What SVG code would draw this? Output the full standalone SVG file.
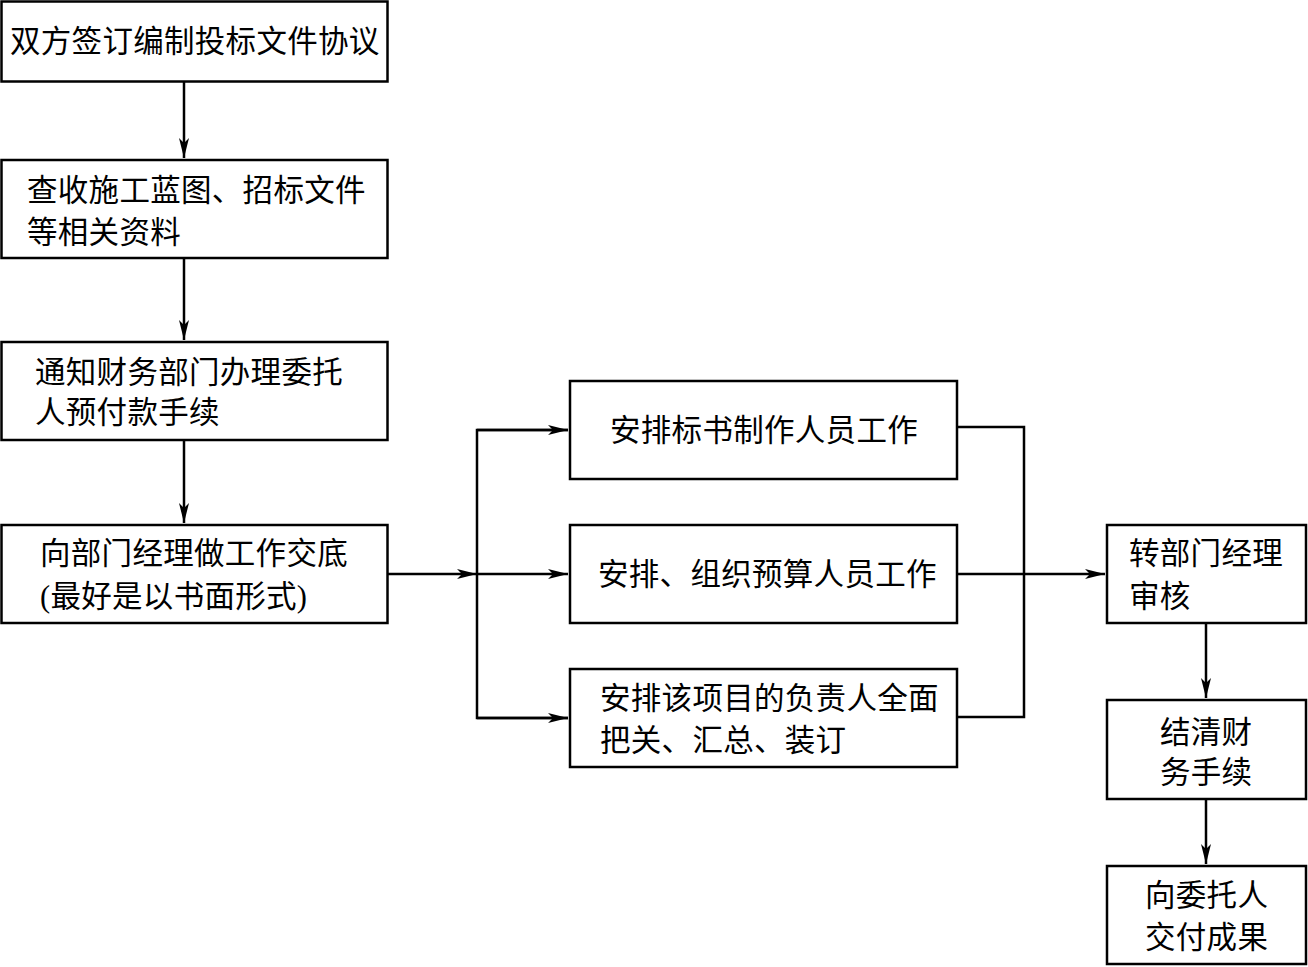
<svg xmlns="http://www.w3.org/2000/svg" width="1308" height="967" viewBox="0 0 1308 967">
<style>
.box{fill:#fff;stroke:#000;stroke-width:2.5}
.t{font-family:"Liberation Serif","Noto Sans CJK SC",serif;font-size:30.5px;fill:#000;letter-spacing:0.3px}
.c{fill:none;stroke:#000;stroke-width:2.5}
</style>
<defs>
<marker id="ah" markerWidth="22" markerHeight="10" refX="20" refY="5" orient="auto" markerUnits="userSpaceOnUse">
<path d="M0,0 L20,5 L0,10 L5,5 Z" fill="#000"/>
</marker>
</defs>
<rect width="1308" height="967" fill="#fff"/>
<g id="n1"><rect class="box" x="1.5" y="1.5" width="386" height="80"/><text class="t" x="10" y="52">双方签订编制投标文件协议</text></g>
<g id="n2"><rect class="box" x="1.5" y="160" width="386" height="98"/><text class="t" x="27" y="201">查收施工蓝图、招标文件</text><text class="t" x="27" y="243">等相关资料</text></g>
<g id="n3"><rect class="box" x="1.5" y="342" width="386" height="98"/><text class="t" x="35" y="383">通知财务部门办理委托</text><text class="t" x="35" y="423">人预付款手续</text></g>
<g id="n4"><rect class="box" x="1.5" y="525" width="386" height="98"/><text class="t" x="40" y="564">向部门经理做工作交底</text><text class="t" x="40" y="607">(最好是以书面形式)</text></g>
<g id="nA"><rect class="box" x="570" y="381" width="387" height="98"/><text class="t" x="610" y="441">安排标书制作人员工作</text></g>
<g id="nB"><rect class="box" x="570" y="525" width="387" height="98"/><text class="t" x="598" y="585">安排、组织预算人员工作</text></g>
<g id="nC"><rect class="box" x="570" y="669" width="387" height="98"/><text class="t" x="600" y="709">安排该项目的负责人全面</text><text class="t" x="600" y="751">把关、汇总、装订</text></g>
<g id="r1"><rect class="box" x="1107" y="525" width="199" height="98"/><text class="t" x="1129" y="564">转部门经理</text><text class="t" x="1129" y="607">审核</text></g>
<g id="r2"><rect class="box" x="1107" y="700" width="199" height="99"/><text class="t" x="1160" y="743">结清财</text><text class="t" x="1160" y="783">务手续</text></g>
<g id="r3"><rect class="box" x="1107" y="866" width="199" height="98"/><text class="t" x="1145" y="906">向委托人</text><text class="t" x="1145" y="948">交付成果</text></g>
<g id="connectors">
<line class="c" x1="184" y1="81" x2="184" y2="158" marker-end="url(#ah)"/>
<line class="c" x1="184" y1="258" x2="184" y2="340" marker-end="url(#ah)"/>
<line class="c" x1="184" y1="440" x2="184" y2="523" marker-end="url(#ah)"/>
<line class="c" x1="387" y1="574" x2="477" y2="574" marker-end="url(#ah)"/>
<polyline class="c" points="568,430 477,430 477,718 568,718"/>
<line class="c" x1="477" y1="430" x2="568" y2="430" marker-end="url(#ah)"/>
<line class="c" x1="477" y1="574" x2="568" y2="574" marker-end="url(#ah)"/>
<line class="c" x1="477" y1="718" x2="568" y2="718" marker-end="url(#ah)"/>
<polyline class="c" points="957,427 1024,427 1024,717 957,717"/>
<line class="c" x1="957" y1="574" x2="1105" y2="574" marker-end="url(#ah)"/>
<line class="c" x1="1206" y1="623" x2="1206" y2="698" marker-end="url(#ah)"/>
<line class="c" x1="1206" y1="799" x2="1206" y2="864" marker-end="url(#ah)"/>
</g>
</svg>
